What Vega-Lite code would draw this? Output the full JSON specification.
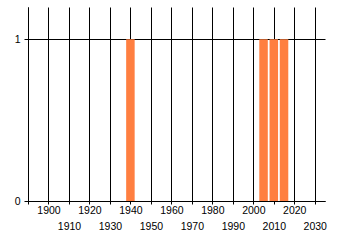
{
  "$schema": "https://vega.github.io/schema/vega-lite/v6.json",
  "width": 297,
  "height": 194,
  "autosize": "none",
  "padding": {"left": 28, "top": 7, "right": 15, "bottom": 44},
  "background": "white",
  "config": {
    "view": {"stroke": null},
    "axis": {"labelFont": "Liberation Sans", "labelFontSize": 10.5, "labelColor": "black", "domainColor": "black", "gridColor": "black", "tickColor": "black", "gridOpacity": 1, "domainWidth": 1, "gridWidth": 1}
  },
  "data": {
    "values": [
      {"year": 1940, "value": 1},
      {"year": 2005, "value": 1},
      {"year": 2010, "value": 1},
      {"year": 2015, "value": 1}
    ]
  },
  "mark": {"type": "bar", "color": "#ff7f40", "size": 8.5},
  "encoding": {
    "x": {
      "field": "year",
      "type": "quantitative",
      "scale": {"domain": [1890, 2035], "nice": false, "zero": false, "padding": 0},
      "axis": {
        "title": null,
        "values": [1890, 1900, 1910, 1920, 1930, 1940, 1950, 1960, 1970, 1980, 1990, 2000, 2010, 2020, 2030],
        "labelExpr": "datum.value == 1890 ? '' : datum.label",
        "format": "d",
        "grid": true,
        "tickSize": 3,
        "labelFlush": false,
        "labelOverlap": false,
        "labelPadding": {"condition": {"test": "datum.value % 20 == 10", "value": 17}, "value": 1}
      }
    },
    "y": {
      "field": "value",
      "type": "quantitative",
      "scale": {"domain": [0, 1.2], "nice": false, "padding": 0},
      "axis": {
        "title": null,
        "values": [0, 1],
        "format": "d",
        "grid": true,
        "tickSize": 4,
        "labelPadding": 4
      }
    }
  }
}
